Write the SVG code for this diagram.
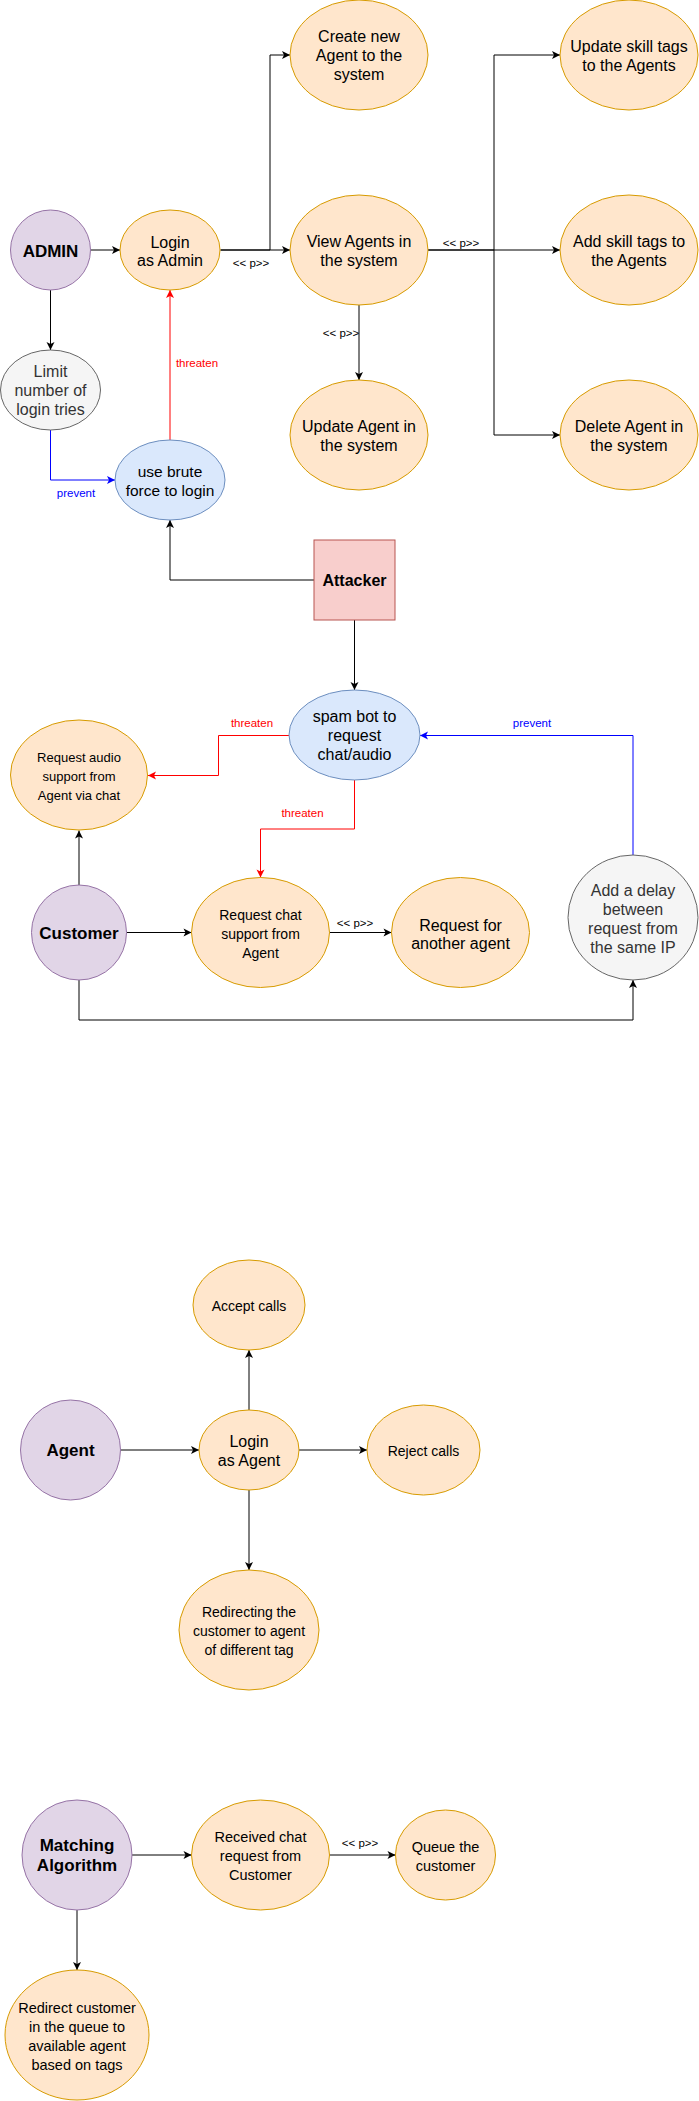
<svg xmlns="http://www.w3.org/2000/svg" width="699" height="2101" viewBox="0 0 699 2101">
<defs>
<style>
.o{fill:#ffe6cc;stroke:#d79b00;stroke-width:1}
.p{fill:#e1d5e7;stroke:#9673a6;stroke-width:1}
.b{fill:#dae8fc;stroke:#6c8ebf;stroke-width:1}
.g{fill:#f5f5f5;stroke:#666666;stroke-width:1}
.r{fill:#f8cecc;stroke:#b85450;stroke-width:1}
text{font-family:"Liberation Sans",Arial,Helvetica,sans-serif;text-anchor:middle;dominant-baseline:central;fill:#000}
.f16{font-size:16px}
.f15{font-size:15.5px}
.f14{font-size:14px}
.f145{font-size:14.5px}
.f13{font-size:13px}
.bold{font-size:17px;font-weight:bold}
.gt{fill:#333333}
.lbl{font-size:11.5px}
.lr{fill:#ff0000}
.lb{fill:#0000ff}
.e{fill:none;stroke:#000000;stroke-width:1}
.er{fill:none;stroke:#ff0000;stroke-width:1}
.eb{fill:none;stroke:#0000ff;stroke-width:1}
</style>
<marker id="ak" markerUnits="userSpaceOnUse" viewBox="-9 -5 10 10" refX="0" refY="0" markerWidth="10" markerHeight="10" orient="auto"><path d="M0,0 L-8,-4 L-6,0 L-8,4 Z" fill="#000000"/></marker>
<marker id="ar" markerUnits="userSpaceOnUse" viewBox="-9 -5 10 10" refX="0" refY="0" markerWidth="10" markerHeight="10" orient="auto"><path d="M0,0 L-8,-4 L-6,0 L-8,4 Z" fill="#ff0000"/></marker>
<marker id="ab" markerUnits="userSpaceOnUse" viewBox="-9 -5 10 10" refX="0" refY="0" markerWidth="10" markerHeight="10" orient="auto"><path d="M0,0 L-8,-4 L-6,0 L-8,4 Z" fill="#0000ff"/></marker>
</defs>
<rect x="0" y="0" width="699" height="2101" fill="#ffffff"/>

<g id="connectors">
<path class="e" d="M90.5,250 H120" marker-end="url(#ak)"/>
<path class="e" d="M220.5,250 H270 V55 H290" marker-end="url(#ak)"/>
<path class="e" d="M220.5,250 H290" marker-end="url(#ak)"/>
<text class="lbl" x="251" y="263">&lt;&lt; p&gt;&gt;</text>
<path class="e" d="M428,250 H494 V55 H560" marker-end="url(#ak)"/>
<path class="e" d="M428,250 H560" marker-end="url(#ak)"/>
<text class="lbl" x="461" y="243">&lt;&lt; p&gt;&gt;</text>
<path class="e" d="M494,250 V435 H560" marker-end="url(#ak)"/>
<path class="e" d="M359,305 V380" marker-end="url(#ak)"/>
<text class="lbl" x="341" y="333">&lt;&lt; p&gt;&gt;</text>
<path class="e" d="M50.5,290 V350" marker-end="url(#ak)"/>
<path class="eb" d="M50.5,430 V480 H115" marker-end="url(#ab)"/>
<text class="lbl lb" x="76" y="493">prevent</text>
<path class="er" d="M170,440 V290" marker-end="url(#ar)"/>
<text class="lbl lr" x="197" y="363">threaten</text>
<path class="e" d="M314,580 H170 V520" marker-end="url(#ak)"/>
<path class="e" d="M354.5,620 V690" marker-end="url(#ak)"/>
<path class="er" d="M290,735.5 H218.5 V775.5 H148" marker-end="url(#ar)"/>
<text class="lbl lr" x="252" y="723">threaten</text>
<path class="er" d="M354.5,780 V829 H260.5 V877.5" marker-end="url(#ar)"/>
<text class="lbl lr" x="302.5" y="813">threaten</text>
<path class="e" d="M79,885 V830.5" marker-end="url(#ak)"/>
<path class="e" d="M126.5,932.5 H191.5" marker-end="url(#ak)"/>
<path class="e" d="M329.5,932.5 H391.5" marker-end="url(#ak)"/>
<text class="lbl" x="355" y="923">&lt;&lt; p&gt;&gt;</text>
<path class="eb" d="M633,855 V735.5 H420" marker-end="url(#ab)"/>
<text class="lbl lb" x="532" y="723">prevent</text>
<path class="e" d="M79,980 V1020 H633 V980" marker-end="url(#ak)"/>
<path class="e" d="M120.5,1450 H199" marker-end="url(#ak)"/>
<path class="e" d="M249,1410 V1350" marker-end="url(#ak)"/>
<path class="e" d="M299,1450 H367" marker-end="url(#ak)"/>
<path class="e" d="M249,1490 V1570" marker-end="url(#ak)"/>
<path class="e" d="M132,1855 H191.5" marker-end="url(#ak)"/>
<path class="e" d="M329.5,1855 H395.5" marker-end="url(#ak)"/>
<text class="lbl" x="360" y="1843">&lt;&lt; p&gt;&gt;</text>
<path class="e" d="M77,1910 V1970" marker-end="url(#ak)"/>
</g>

<g id="admin"><circle class="p" cx="50.5" cy="250" r="40"/><text class="bold" x="50.5" y="251">ADMIN</text></g>
<g id="login-admin"><ellipse class="o" cx="170" cy="250" rx="50" ry="40"/><text class="f16" x="170" y="242">Login</text><text class="f16" x="170" y="260.5">as Admin</text></g>
<g id="create-agent"><ellipse class="o" cx="359" cy="55" rx="69" ry="55"/><text class="f16" x="359" y="36">Create new</text><text class="f16" x="359" y="55">Agent to the</text><text class="f16" x="359" y="74.5">system</text></g>
<g id="view-agents"><ellipse class="o" cx="359" cy="250" rx="69" ry="55"/><text class="f16" x="359" y="241">View Agents in</text><text class="f16" x="359" y="260">the system</text></g>
<g id="update-skill"><ellipse class="o" cx="629" cy="55" rx="69" ry="55"/><text class="f16" x="629" y="46.5">Update skill tags</text><text class="f16" x="629" y="65">to the Agents</text></g>
<g id="add-skill"><ellipse class="o" cx="629" cy="250" rx="69" ry="55"/><text class="f16" x="629" y="241.5">Add skill tags to</text><text class="f16" x="629" y="260">the Agents</text></g>
<g id="delete-agent"><ellipse class="o" cx="629" cy="435" rx="69" ry="55"/><text class="f16" x="629" y="426.5">Delete Agent in</text><text class="f16" x="629" y="445.5">the system</text></g>
<g id="update-agent"><ellipse class="o" cx="359" cy="435" rx="69" ry="55"/><text class="f16" x="359" y="426.5">Update Agent in</text><text class="f16" x="359" y="445.5">the system</text></g>
<g id="limit-tries"><ellipse class="g" cx="50.5" cy="390" rx="50" ry="40"/><text class="f16 gt" x="50.5" y="371.5">Limit</text><text class="f16 gt" x="50.5" y="390">number of</text><text class="f16 gt" x="50.5" y="409">login tries</text></g>
<g id="brute-force"><ellipse class="b" cx="170" cy="480" rx="55" ry="40"/><text class="f15" x="170" y="471.5">use brute</text><text class="f15" x="170" y="490">force to login</text></g>
<g id="attacker"><rect class="r" x="314" y="540" width="81" height="80"/><text class="f16" font-weight="bold" x="354.5" y="580">Attacker</text></g>

<g id="spam-bot"><ellipse class="b" cx="354.5" cy="735" rx="65.5" ry="45"/><text class="f16" x="354.5" y="716.5">spam bot to</text><text class="f16" x="354.5" y="735.5">request</text><text class="f16" x="354.5" y="754">chat/audio</text></g>
<g id="request-audio"><ellipse class="o" cx="79" cy="775" rx="68.5" ry="55"/><text class="f13" x="79" y="757">Request audio</text><text class="f13" x="79" y="776">support from</text><text class="f13" x="79" y="795">Agent via chat</text></g>
<g id="customer"><circle class="p" cx="79" cy="932.5" r="47.5"/><text class="bold" x="79" y="933">Customer</text></g>
<g id="request-chat"><ellipse class="o" cx="260.5" cy="932.5" rx="69" ry="55"/><text class="f14" x="260.5" y="915">Request chat</text><text class="f14" x="260.5" y="934">support from</text><text class="f14" x="260.5" y="953">Agent</text></g>
<g id="request-another"><ellipse class="o" cx="460.5" cy="932.5" rx="69" ry="55"/><text class="f16" x="460.5" y="925">Request for</text><text class="f16" x="460.5" y="943.5">another agent</text></g>
<g id="add-delay"><ellipse class="g" cx="633" cy="917.5" rx="65" ry="62.5"/><text class="f16 gt" x="633" y="890.5">Add a delay</text><text class="f16 gt" x="633" y="909.5">between</text><text class="f16 gt" x="633" y="928.5">request from</text><text class="f16 gt" x="633" y="947">the same IP</text></g>

<g id="agent"><circle class="p" cx="70.5" cy="1450" r="50"/><text class="bold" x="70.5" y="1450.5">Agent</text></g>
<g id="login-agent"><ellipse class="o" cx="249" cy="1450" rx="50" ry="40"/><text class="f16" x="249" y="1441.5">Login</text><text class="f16" x="249" y="1460">as Agent</text></g>
<g id="accept-calls"><ellipse class="o" cx="249" cy="1305" rx="56" ry="45"/><text class="f14" x="249" y="1306">Accept calls</text></g>
<g id="reject-calls"><ellipse class="o" cx="423.5" cy="1450" rx="56.5" ry="45"/><text class="f14" x="423.5" y="1450.5">Reject calls</text></g>
<g id="redirecting"><ellipse class="o" cx="249" cy="1630" rx="70" ry="60"/><text class="f14" x="249" y="1611.5">Redirecting the</text><text class="f14" x="249" y="1631">customer to agent</text><text class="f14" x="249" y="1650">of different tag</text></g>

<g id="matching"><circle class="p" cx="77" cy="1855" r="55"/><text class="bold" x="77" y="1845">Matching</text><text class="bold" x="77" y="1865">Algorithm</text></g>
<g id="received-chat"><ellipse class="o" cx="260.5" cy="1855" rx="69" ry="55"/><text class="f145" x="260.5" y="1836.5">Received chat</text><text class="f145" x="260.5" y="1856">request from</text><text class="f145" x="260.5" y="1875">Customer</text></g>
<g id="queue"><ellipse class="o" cx="445.5" cy="1855" rx="50" ry="45"/><text class="f145" x="445.5" y="1846.5">Queue the</text><text class="f145" x="445.5" y="1866">customer</text></g>
<g id="redirect-customer"><ellipse class="o" cx="77" cy="2035" rx="72" ry="65"/><text class="f145" x="77" y="2008">Redirect customer</text><text class="f145" x="77" y="2027">in the queue to</text><text class="f145" x="77" y="2046">available agent</text><text class="f145" x="77" y="2065">based on tags</text></g>
</svg>
